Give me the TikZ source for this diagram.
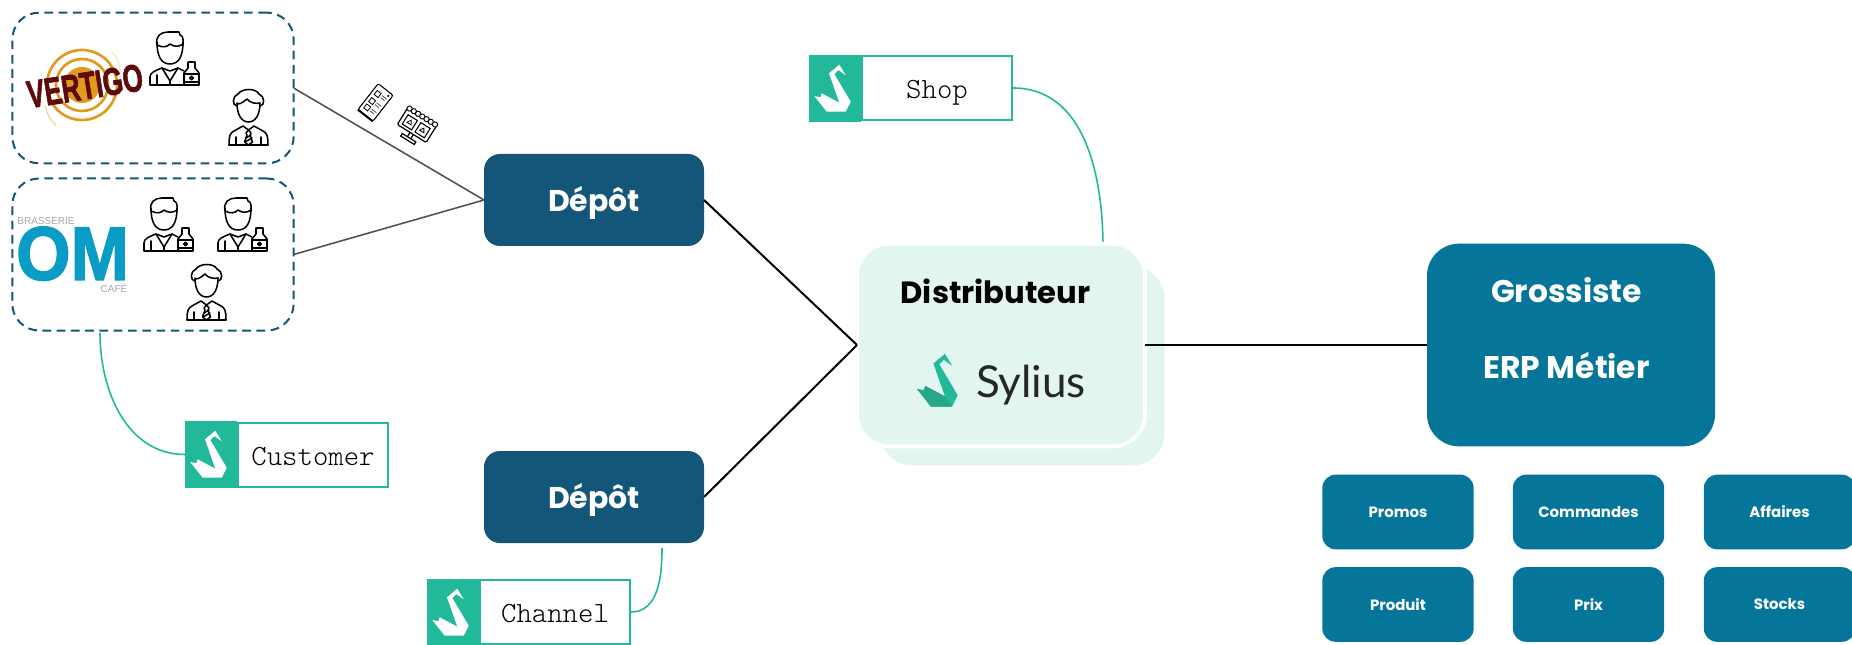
\documentclass[tikz,border=0pt]{standalone}
\usepackage{fontspec}
\setmainfont{Lato}
\setmonofont{Latin Modern Mono Light}
\newfontfamily\headfont{Poppins}
\newfontfamily\arialfont{Liberation Sans}[BoldFeatures={FakeBold=2}]
\definecolor{depotblue}{HTML}{14567A}
\definecolor{erpblue}{HTML}{05769A}
\definecolor{syliusteal}{HTML}{22B99A}
\definecolor{syliusdark}{HTML}{27A688}
\definecolor{paleteal}{HTML}{E2F5F0}
\definecolor{vertigored}{HTML}{5C0A0A}
\definecolor{vertigogold}{HTML}{E09B1E}
\definecolor{omblue}{HTML}{0A9CC4}
\tikzset{
    clientbox/.style={rounded corners=20pt, draw=depotblue, line width=1.5pt, dash pattern=on 6.5pt off 4.2pt, minimum width=211pt, outer sep=0pt},
    depotbox/.style={rounded corners=12pt, fill=depotblue, text=white, minimum width=165pt, minimum height=69pt, outer sep=0pt, text height=17pt, text depth=0pt, font=\fontsize{22.5}{26}\selectfont\headfont\bfseries},
    distbox/.style={rounded corners=24pt, fill=paleteal, minimum width=213pt, minimum height=149pt, outer sep=0pt},
    erpbox/.style={rounded corners=24pt, fill=erpblue, minimum width=216pt, minimum height=152pt, outer sep=0pt},
    cellbox/.style={rounded corners=10pt, fill=erpblue, text=white, minimum width=113.5pt, minimum height=56pt, outer sep=0pt, font=\fontsize{11.2}{14}\selectfont\headfont\bfseries},
    badgebox/.style={draw=syliusteal, line width=1.5pt, fill=white, minimum width=112.5pt, minimum height=48pt, outer sep=0.75pt, text height=16pt, text depth=0pt, font=\fontsize{22}{26}\selectfont\ttfamily},
    badgeicon/.style={fill=syliusteal, minimum width=39pt, minimum height=50pt, outer sep=0pt},
    grossistetext/.style={text=white, font=\fontsize{23.5}{28}\selectfont\headfont\bfseries},
    greyline/.style={draw=black!67, line width=1.2pt},
    blackline/.style={draw=black, line width=1.5pt},
    tealline/.style={draw=syliusteal, line width=1.2pt},
    iconline/.style={draw=black, line width=1.15pt, line join=round, line cap=round},
    swan/.pic={
        \path[pic actions] (20,18.3) -- (30.3,9.7) -- (36.7,20.3) -- (29.3,15) -- (25.3,19) -- (41.7,46.7) -- (36.7,56.7) -- (17.7,56.7) -- (5.3,41) -- (11.3,42.3) -- (12.7,38.3) -- (30.3,47.7) -- cycle;
    },
    swanbody/.pic={
        \path[pic actions] (5.3,41) -- (11.3,42.3) -- (12.7,38.3) -- (30.3,47.7) -- (36.7,56.7) -- (17.7,56.7) -- cycle;
    },
    barman/.pic={
        \draw[iconline] (8,12) .. controls (8,26) and (12,34) .. (21,34) .. controls (30,34) and (34,26) .. (34,12);
        \draw[iconline] (8,15) .. controls (14,18) and (18,17) .. (21,14) .. controls (25,17) and (30,17) .. (34,14);
        \draw[iconline] (8,15) .. controls (6,6) and (12,2) .. (19,2) -- (30,2) -- (31,5) .. controls (34,6) and (34.5,9) .. (34,15);
        \draw[iconline] (35,55) -- (1,55) -- (1,47) .. controls (1,43) and (5,41) .. (13,38) -- (21,51) -- (29,38) -- (35,41);
        \draw[iconline] (8,45) -- (8,55) (13,38) -- (21,41) -- (29,38) (21,51) -- (21,55);
        \draw[iconline] (35,55) -- (35,43) -- (39,38) -- (39,32) -- (46,32) -- (46,38) -- (50,43) -- (50,55) -- cycle;
        \draw[iconline] (35,44) -- (50,44) (35,52) -- (50,52);
        \draw[iconline] (42.5,48) circle[radius=1.8];
    },
    manager/.pic={
        \draw[iconline] (9,15) .. controls (9,26) and (13,34) .. (20.5,34) .. controls (28,34) and (32,26) .. (32,15);
        \draw[iconline] (9,18) .. controls (4,18) and (4,8) .. (10,6) .. controls (14,0) and (28,0) .. (31,6) .. controls (37,8) and (37,18) .. (32,18);
        \draw[iconline] (9,16) .. controls (14,16) and (16,13) .. (19,11) .. controls (22,15) and (28,16) .. (32,15);
        \draw[iconline] (1,57) .. controls (1,48) and (2,45) .. (6,43) -- (15,38) -- (20.5,42) -- (26,38) -- (35,43) .. controls (39,45) and (40,48) .. (40,57) -- cycle;
        \draw[iconline] (8,49) -- (8,57) (33,49) -- (33,57);
        \draw[iconline] (20.5,42) -- (18,45) -- (19,47) -- (16.5,54) -- (20.5,57) -- (24.5,54) -- (22,47) -- (23,45) -- cycle;
        \draw[iconline] (18,50) -- (23,47) (17,54) -- (24,50);
    },
    menucard/.pic={
        \draw[black, line width=0.8pt, rounded corners=1.5pt, fill=white] (-9.5,-16.5) rectangle (9.5,16.5);
        \draw[black, line width=1.5pt] (-9.5,16.5) -- (9.5,16.5);
        \foreach \i in {-8,1,9} {
            \draw[black, line width=0.6pt] (-6,\i-2.5) rectangle (-1,\i+2.5);
            \draw[black!70, line width=0.6pt] (1,\i-1.5) -- (7,\i-1.5) (1,\i+1) -- (6,\i+1);
        }
        \fill[black] (6,-13) circle[radius=1.2];
    },
    shopscreen/.pic={
        \draw[black, line width=0.9pt, rounded corners=1pt, fill=white] (-17,-10) rectangle (17,10);
        \foreach \i in {-15,-10,...,15} {
            \draw[black, line width=0.7pt, fill=white] (\i,-10) circle[radius=2.6];
        }
        \draw[black, line width=0.8pt] (-13,-4) rectangle (-2,7) (2,-4) rectangle (13,7);
        \draw[black, line width=0.6pt] (-10,3) -- (-7.5,-1) -- (-5,3) -- cycle (5,3) -- (7.5,-1) -- (10,3) -- cycle;
        \draw[black, line width=0.9pt] (-2,10) -- (-2,15) (2,10) -- (2,15);
        \draw[black, line width=0.9pt, fill=white] (-8,15) rectangle (8,18);
    },
}
\begin{document}
\begin{tikzpicture}[x=0.75pt, y=-0.75pt]
    \useasboundingbox (0,0) rectangle (1852,645);

    \node (vertigoBox) at (153, 88) [clientbox, minimum height=113pt] {};
    \node (omBox) at (153, 254.5) [clientbox, minimum height=114pt] {};

    \draw[vertigogold, line width=2pt] (82,85) circle[radius=35];
    \draw[vertigogold, line width=2pt] (82,85) circle[radius=26];
    \fill[vertigogold] (82,85) circle[radius=18];
    \draw[vertigogold!50, line width=0.8pt] (45,105) .. controls (47,114) and (50,120) .. (56,125);
    \draw[vertigogold!30, line width=0.8pt] (112,52) .. controls (118,58) and (121,68) .. (120,78);
    \node (vertigoLogo) at (85, 86) [rotate=9, text=vertigored, inner sep=0pt, font=\fontsize{29}{30}\selectfont\arialfont\bfseries] {\scalebox{0.67}[1]{VERTIGO}};

    \node (omLogo) at (72.5, 252.5) [text=omblue, inner sep=0pt, text height=41pt, text depth=0pt, font=\fontsize{57}{60}\selectfont\arialfont\bfseries] {\scalebox{0.92}[1]{OM}};
    \node (brasserieLabel) at (46, 221) [text=black!35, inner sep=0pt, font=\fontsize{7.5}{9}\selectfont\arialfont] {BRASSERIE};
    \node (cafeLabel) at (114, 288) [text=black!35, inner sep=0pt, font=\fontsize{7.5}{9}\selectfont\arialfont] {CAFÉ};

    \pic at (149, 30) {barman};
    \pic at (228, 88) {manager};
    \pic at (143, 196) {barman};
    \pic at (217, 196) {barman};
    \pic at (186, 263) {manager};

    \pic[rotate=-38] at (375.5, 102.5) {menucard};
    \pic[rotate=-32] at (417, 125) {shopscreen};

    \node (depotA) at (594, 200) [depotbox] {Dépôt};
    \node (depotB) at (594, 497) [depotbox] {Dépôt};

    \node (distBack) at (1022.5, 366) [distbox] {};
    \coordinate (shopEnd) at (1103, 248);
    \coordinate (customerStart) at (100, 333);
    \coordinate (channelStart) at (662, 548);

    \node (shopBox) at (937, 88) [badgebox] {Shop};
    \node (shopIcon) at (835, 88.5) [badgeicon] {};
    \pic[fill=white] at (809, 55) {swan};
    \draw[tealline] (shopBox.east) to[out=0, in=90] (shopEnd);

    \node (distFront) at (1001, 345) [distbox, draw=white, line width=3pt, minimum width=216pt, minimum height=152pt] {};
    \node (distLabel) at (995.5, 291) [font=\fontsize{23}{28}\selectfont\headfont\bfseries] {Distributeur};
    \pic[fill=syliusteal, scale=1.12] at (911, 343) {swan};
    \pic[fill=syliusdark, scale=1.12] at (911, 343) {swanbody};
    \node (syliusLabel) at (1031, 385) [text=black!85, font=\fontsize{33}{36}\selectfont] {Sylius};

    \node (erpBox) at (1571, 345) [erpbox] {};
    \node (grossisteLabel) at (1566.5, 290) [grossistetext] {Grossiste};
    \node (metierLabel) at (1566.5, 366) [grossistetext] {ERP Métier};

    \node (promos) at (1398, 512) [cellbox] {Promos};
    \node (commandes) at (1588.5, 512) [cellbox] {Commandes};
    \node (affaires) at (1779.5, 512) [cellbox] {Affaires};
    \node (produit) at (1398, 604.5) [cellbox] {Produit};
    \node (prix) at (1588.5, 604.5) [cellbox] {Prix};
    \node (stocks) at (1779.5, 604.5) [cellbox] {Stocks};

    \node (customerBox) at (313, 454.5) [badgebox] {Customer};
    \node (customerIcon) at (211, 454.5) [badgeicon] {};
    \pic[fill=white] at (185, 421) {swan};
    \draw[tealline] (customerStart) to[out=-90, in=180] (customerIcon.west);

    \node (channelBox) at (555, 612) [badgebox] {Channel};
    \node (channelIcon) at (453, 612) [badgeicon] {};
    \pic[fill=white] at (427, 579) {swan};
    \draw[tealline] (channelStart) to[out=-90, in=0] (channelBox.east);

    \draw[greyline] (vertigoBox.east) -- (depotA.west);
    \draw[greyline] (omBox.east) -- (depotA.west);
    \draw[blackline] (depotA.east) -- (distFront.west);
    \draw[blackline] (depotB.east) -- (distFront.west);
    \draw[blackline] (distFront.east) -- (erpBox.west);
\end{tikzpicture}
\end{document}
